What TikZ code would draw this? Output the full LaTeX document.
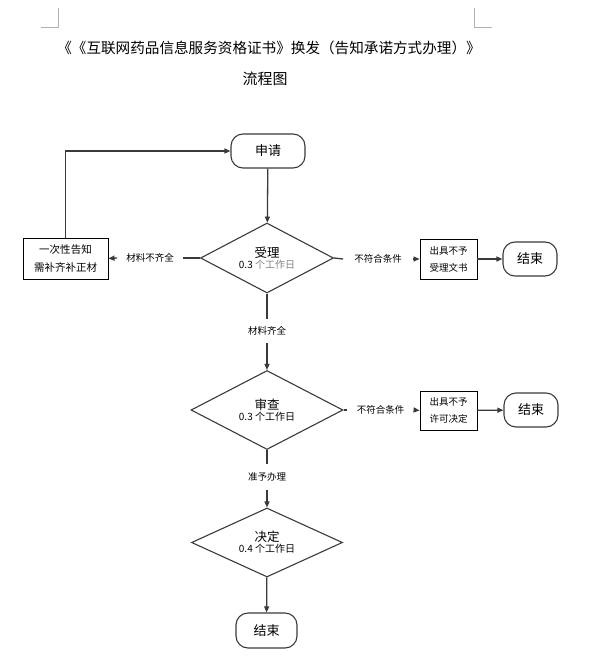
\documentclass[tikz,border=0pt]{standalone}
\usepackage{fontspec}
\setmainfont{Noto Sans CJK SC}
\usetikzlibrary{shapes.geometric,arrows.meta}
\definecolor{ln}{HTML}{3A3A3A}
\definecolor{sub}{HTML}{808080}
\tikzset{
  every node/.style={inner sep=0pt, text=black},
  term/.style={draw=ln, line width=1.1pt, rounded corners=12pt, minimum width=#1, font=\fontsize{13}{14}\selectfont},
  term/.default=74pt,
  rectbox/.style={draw=black, line width=0.9pt, align=center, font=\fontsize{9.5}{17}\selectfont},
  dia/.style={diamond, aspect=2, draw=ln, line width=1.1pt, align=center},
  lbl/.style={font=\fontsize{9.5}{10}\selectfont, inner xsep=11pt, inner ysep=7pt},
  conn/.style={draw=ln, line width=1.3pt},
  arr/.style={conn, -{Triangle[length=6pt,width=5pt]}},
  corner/.style={draw=gray!60, line width=0.6pt}
}
\begin{document}
\begin{tikzpicture}[x=1pt,y=-1pt]
\useasboundingbox (0,0) rectangle (591,671);
% page corner marks
\coordinate (c1) at (58,8); \coordinate (c2) at (58,27); \coordinate (c3) at (41,27);
\coordinate (c4) at (474,8); \coordinate (c5) at (474,27); \coordinate (c6) at (492,27);
\draw[corner] (c1) -- (c2) -- (c3);
\draw[corner] (c4) -- (c5) -- (c6);
% title
\node (t1) at (269,48) {\fontsize{14.6}{16}\selectfont 《《互联网药品信息服务资格证书》换发（告知承诺方式办理）》};
\node (t2) at (265,79) {\fontsize{15}{16}\selectfont 流程图};
% nodes
\node[term, minimum height=34pt] (s) at (268,151) {申请};
\node[dia, minimum width=133pt, minimum height=70pt] (a) at (267,258)
  {\fontsize{12.5}{15}\selectfont 受理\\[-1pt]{\fontsize{10}{12}\selectfont 0.3 \textcolor{sub}{个工作日}}};
\node[rectbox, minimum width=85pt, minimum height=41pt, font=\fontsize{10.5}{18}\selectfont] (b1) at (65.5,258.5) {一次性告知\\需补齐补正材};
\node[lbl, inner xsep=9pt] (l1) at (150,258) {材料不齐全};
\node[lbl] (l2) at (378,259) {不符合条件};
\node[rectbox, minimum width=57pt, minimum height=40pt] (b2) at (448.5,259) {出具不予\\受理文书};
\node[term=54pt, minimum height=34pt] (e1) at (530,259) {结束};
\node[lbl] (l3) at (267,331) {材料齐全};
\node[dia, minimum width=152pt, minimum height=79pt] (r) at (267,410)
  {\fontsize{12.5}{15}\selectfont 审查\\[-1pt]{\fontsize{10}{12}\selectfont 0.3 个工作日}};
\node[lbl, inner xsep=10pt] (l4) at (380.5,410) {不符合条件};
\node[rectbox, minimum width=57pt, minimum height=39pt] (b3) at (448.5,410.5) {出具不予\\许可决定};
\node[term=54pt, minimum height=34pt] (e2) at (531,410) {结束};
\node[lbl, inner ysep=8pt] (l5) at (267,477) {准予办理};
\node[dia, minimum width=151pt, minimum height=69pt] (d) at (267,542.5)
  {\fontsize{12.5}{15}\selectfont 决定\\[-1pt]{\fontsize{10}{12}\selectfont 0.4 个工作日}};
\node[term=61pt, minimum height=35pt] (e3) at (266.5,630.5) {结束};
% connectors
\draw[arr] (s) -- (a);
\draw[conn] (a.west) -- (l1.east);
\draw[arr] (l1.west) -- (b1.east);
\draw[arr] (b1.north) |- (s.west);
\draw[conn] (a.east) -- (l2.west);
\draw[arr] (l2.east) -- (b2.west);
\draw[arr] (b2) -- (e1);
\draw[conn] (a.south) -- (l3.north);
\draw[arr] (l3.south) -- (r.north);
\draw[conn] (r.east) -- (l4.west);
\draw[arr] (l4.east) -- (b3.west);
\draw[arr] (b3) -- (e2);
\draw[conn] (r.south) -- (l5.north);
\draw[arr] (l5.south) -- (d.north);
\draw[arr] (d) -- (e3);
\end{tikzpicture}
\end{document}
